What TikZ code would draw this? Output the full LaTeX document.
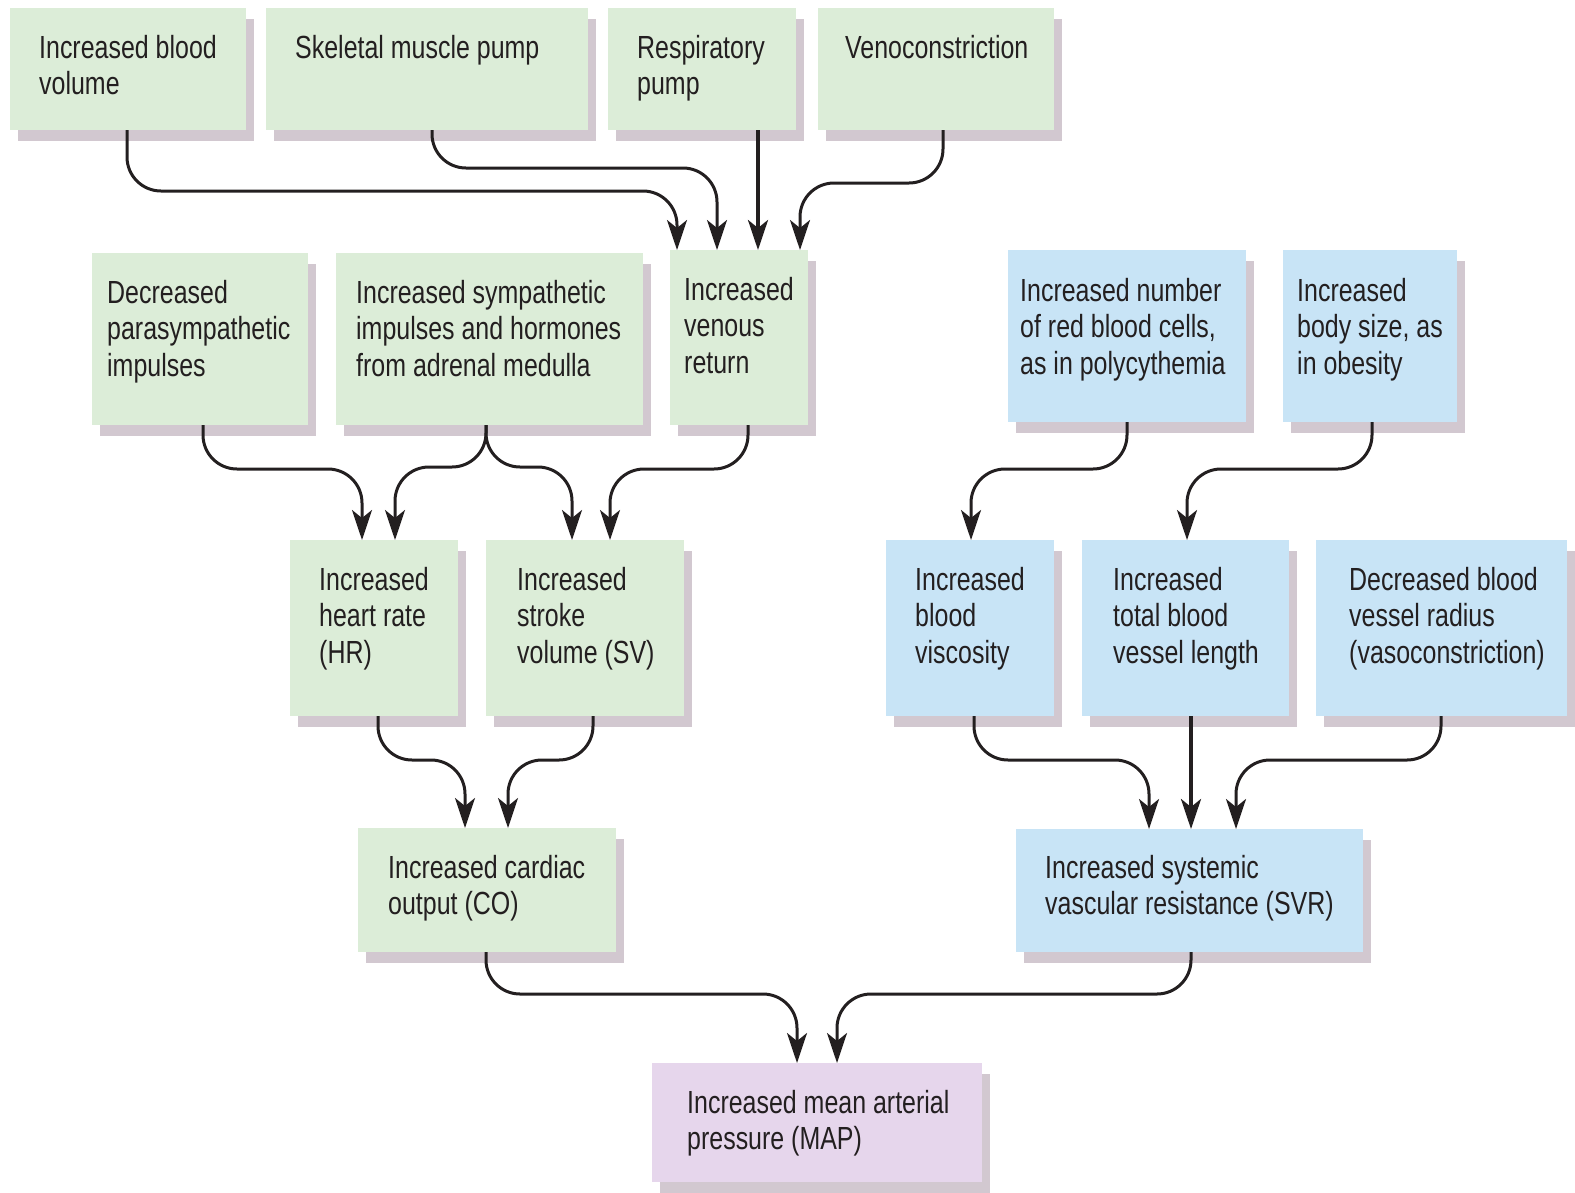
\documentclass[tikz,border=0pt]{standalone}
\usepackage{fontspec}
\setmainfont[FakeStretch=0.78]{Liberation Sans}
\usetikzlibrary{arrows.meta,shadows}
\definecolor{gfill}{HTML}{DCEDD8}
\definecolor{bfill}{HTML}{C8E4F6}
\definecolor{pfill}{HTML}{E6D6EC}
\definecolor{shc}{HTML}{D2C8D0}
\definecolor{ink}{HTML}{231F20}
\tikzset{
  boxbase/.style={rectangle, anchor=north west, inner sep=0pt, outer sep=0pt, draw=none,
    general shadow={fill=shc, shadow xshift=8pt, shadow yshift=-11pt}},
  gbox/.style={boxbase, fill=gfill},
  bbox/.style={boxbase, fill=bfill},
  pbox/.style={boxbase, fill=pfill},
  txt/.style={anchor=north west, inner sep=0pt, align=left, text=ink,
    font=\fontsize{32}{36.5}\selectfont},
  conn/.style={draw=ink, line width=3pt, rounded corners=34pt,
    -{Stealth[length=30pt, width=20pt, inset=8pt]}},
  straightconn/.style={conn, line width=3.6pt},
}
\begin{document}
\begin{tikzpicture}[x=1pt, y=-1pt]
\useasboundingbox (0,0) rectangle (1575,1192);
% row 1
\node[gbox, minimum width=236pt, minimum height=122pt] (bv) at (10,8) {};
\node[gbox, minimum width=322pt, minimum height=122pt] (sk) at (266,8) {};
\node[gbox, minimum width=188pt, minimum height=122pt] (rp) at (608,8) {};
\node[gbox, minimum width=236pt, minimum height=122pt] (vc) at (818,8) {};
% row 2
\node[gbox, minimum width=216pt, minimum height=172pt] (ps) at (92,253) {};
\node[gbox, minimum width=307pt, minimum height=172pt] (sy) at (336,253) {};
\node[gbox, minimum width=138pt, minimum height=175pt] (vr) at (670,250) {};
\node[bbox, minimum width=238pt, minimum height=172pt] (rbc) at (1008,250) {};
\node[bbox, minimum width=174pt, minimum height=172pt] (bd) at (1283,250) {};
% row 3
\node[gbox, minimum width=168pt, minimum height=176pt] (hr) at (290,540) {};
\node[gbox, minimum width=198pt, minimum height=176pt] (sv) at (486,540) {};
\node[bbox, minimum width=168pt, minimum height=176pt] (vis) at (886,540) {};
\node[bbox, minimum width=207pt, minimum height=176pt] (len) at (1082,540) {};
\node[bbox, minimum width=251pt, minimum height=176pt] (rad) at (1316,540) {};
% row 4
\node[gbox, minimum width=258pt, minimum height=124pt] (co) at (358,828) {};
\node[bbox, minimum width=347pt, minimum height=123pt] (svr) at (1016,829) {};
% row 5
\node[pbox, minimum width=330pt, minimum height=119pt] (map) at (652,1063) {};
% texts
\node[txt] (bvt) at (39,35) {Increased blood\\volume};
\node[txt] (skt) at (295,35) {Skeletal muscle pump};
\node[txt] (rpt) at (637,35) {Respiratory\\pump};
\node[txt] (vct) at (845,35) {Venoconstriction};
\node[txt] (pst) at (107,280) {Decreased\\parasympathetic\\impulses};
\node[txt] (syt) at (356,280) {Increased sympathetic\\impulses and hormones\\from adrenal medulla};
\node[txt] (vrt) at (684,277) {Increased\\venous\\return};
\node[txt] (rbct) at (1020,278) {Increased number\\of red blood cells,\\as in polycythemia};
\node[txt] (bdt) at (1297,278) {Increased\\body size, as\\in obesity};
\node[txt] (hrt) at (319,567) {Increased\\heart rate\\(HR)};
\node[txt] (svt) at (517,567) {Increased\\stroke\\volume (SV)};
\node[txt] (vist) at (915,567) {Increased\\blood\\viscosity};
\node[txt] (lent) at (1113,567) {Increased\\total blood\\vessel length};
\node[txt] (radt) at (1349,567) {Decreased blood\\vessel radius\\(vasoconstriction)};
\node[txt] (cot) at (388,855) {Increased cardiac\\output (CO)};
\node[txt] (svrt) at (1045,855) {Increased systemic\\vascular resistance (SVR)};
\node[txt] (mapt) at (687,1090) {Increased mean arterial\\pressure (MAP)};
% connectors row 1 -> venous return
\draw[conn] ([xshift=117pt]bv.south west) -- ++(0,61) -| ([xshift=7pt]vr.north west);
\draw[conn] ([xshift=166pt]sk.south west) -- ++(0,38) -| ([xshift=47pt]vr.north west);
\draw[straightconn] ([xshift=150pt]rp.south west) -- ([xshift=88pt]vr.north west);
\draw[conn] ([xshift=125pt]vc.south west) -- ++(0,53) -| ([xshift=130pt]vr.north west);
% row 2 -> row 3
\draw[conn] ([xshift=111pt]ps.south west) -- ++(0,44) -| ([xshift=72pt]hr.north west);
\draw[conn] ([xshift=150pt]sy.south west) -- ++(0,42) -| ([xshift=105pt]hr.north west);
\draw[conn] ([xshift=150pt]sy.south west) -- ++(0,42) -| ([xshift=86pt]sv.north west);
\draw[conn] ([xshift=78pt]vr.south west) -- ++(0,44) -| ([xshift=124pt]sv.north west);
\draw[conn] ([xshift=119pt]rbc.south west) -- ++(0,47) -| ([xshift=85pt]vis.north west);
\draw[conn] ([xshift=89pt]bd.south west) -- ++(0,47) -| ([xshift=105pt]len.north west);
% row 3 -> row 4
\draw[conn] ([xshift=88pt]hr.south west) -- ++(0,44) -| ([xshift=107pt]co.north west);
\draw[conn] ([xshift=107pt]sv.south west) -- ++(0,44) -| ([xshift=150pt]co.north west);
\draw[conn] ([xshift=88pt]vis.south west) -- ++(0,44) -| ([xshift=133pt]svr.north west);
\draw[straightconn] ([xshift=109pt]len.south west) -- ([xshift=175pt]svr.north west);
\draw[conn] ([xshift=125pt]rad.south west) -- ++(0,44) -| ([xshift=220pt]svr.north west);
% row 4 -> MAP
\draw[conn] ([xshift=128pt]co.south west) -- ++(0,42) -| ([xshift=145pt]map.north west);
\draw[conn] ([xshift=175pt]svr.south west) -- ++(0,42) -| ([xshift=185pt]map.north west);
\end{tikzpicture}
\end{document}
